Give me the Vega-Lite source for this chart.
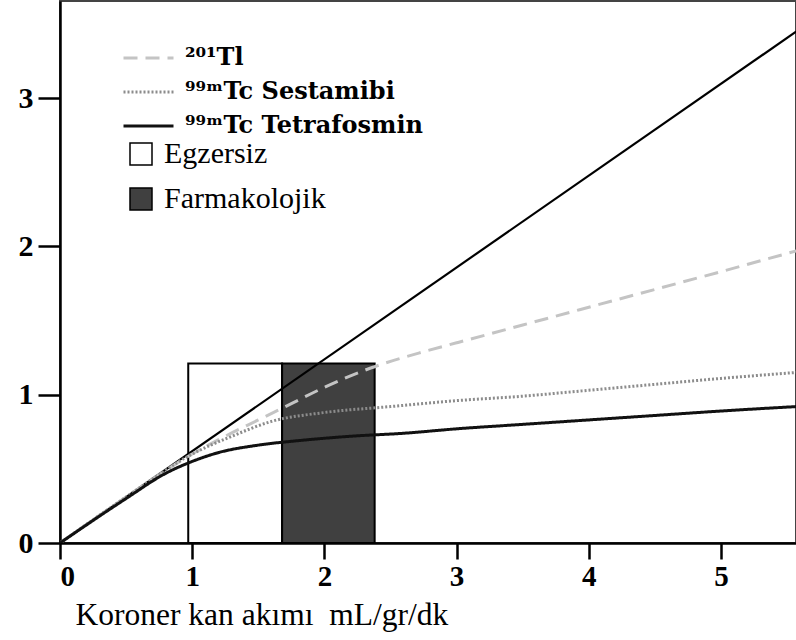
{
  "$schema": "https://vega.github.io/schema/vega-lite/v6.json",
  "autosize": {"type": "none"},
  "padding": {"left": 60, "top": 1, "right": 0, "bottom": 97},
  "width": 736,
  "height": 542,
  "background": "white",
  "config": {
    "view": {"stroke": "#444", "strokeWidth": 2},
    "font": "Liberation Serif"
  },
  "datasets": {
    "rects": [
      {"k": "Egzersiz", "x0": 0.97, "x1": 1.68, "y0": 0, "y1": 1.21},
      {"k": "Farmakolojik", "x0": 1.68, "x1": 2.38, "y0": 0, "y1": 1.21}
    ],
    "ident": [
      {"x": 0, "y": 0},
      {"x": 5.57, "y": 3.45}
    ],
    "curves": [
      {"s": "²⁰¹Tl", "x": 0, "y": 0},
      {"s": "²⁰¹Tl", "x": 0.5, "y": 0.31},
      {"s": "²⁰¹Tl", "x": 1, "y": 0.6},
      {"s": "²⁰¹Tl", "x": 1.25, "y": 0.72},
      {"s": "²⁰¹Tl", "x": 1.5, "y": 0.83},
      {"s": "²⁰¹Tl", "x": 1.75, "y": 0.94},
      {"s": "²⁰¹Tl", "x": 2, "y": 1.05},
      {"s": "²⁰¹Tl", "x": 2.35, "y": 1.18},
      {"s": "²⁰¹Tl", "x": 2.75, "y": 1.29},
      {"s": "²⁰¹Tl", "x": 3, "y": 1.35},
      {"s": "²⁰¹Tl", "x": 3.5, "y": 1.47},
      {"s": "²⁰¹Tl", "x": 4, "y": 1.59},
      {"s": "²⁰¹Tl", "x": 4.5, "y": 1.71},
      {"s": "²⁰¹Tl", "x": 5, "y": 1.83},
      {"s": "²⁰¹Tl", "x": 5.57, "y": 1.97},
      {"s": "⁹⁹ᵐTc Sestamibi", "x": 0, "y": 0},
      {"s": "⁹⁹ᵐTc Sestamibi", "x": 0.5, "y": 0.31},
      {"s": "⁹⁹ᵐTc Sestamibi", "x": 1, "y": 0.6},
      {"s": "⁹⁹ᵐTc Sestamibi", "x": 1.3, "y": 0.72},
      {"s": "⁹⁹ᵐTc Sestamibi", "x": 1.6, "y": 0.82},
      {"s": "⁹⁹ᵐTc Sestamibi", "x": 2, "y": 0.88},
      {"s": "⁹⁹ᵐTc Sestamibi", "x": 2.5, "y": 0.92},
      {"s": "⁹⁹ᵐTc Sestamibi", "x": 3, "y": 0.96},
      {"s": "⁹⁹ᵐTc Sestamibi", "x": 3.5, "y": 0.99},
      {"s": "⁹⁹ᵐTc Sestamibi", "x": 4, "y": 1.03},
      {"s": "⁹⁹ᵐTc Sestamibi", "x": 4.5, "y": 1.07},
      {"s": "⁹⁹ᵐTc Sestamibi", "x": 5, "y": 1.11},
      {"s": "⁹⁹ᵐTc Sestamibi", "x": 5.57, "y": 1.15},
      {"s": "⁹⁹ᵐTc Tetrafosmin", "x": 0, "y": 0},
      {"s": "⁹⁹ᵐTc Tetrafosmin", "x": 0.5, "y": 0.3},
      {"s": "⁹⁹ᵐTc Tetrafosmin", "x": 0.8, "y": 0.47},
      {"s": "⁹⁹ᵐTc Tetrafosmin", "x": 1, "y": 0.55},
      {"s": "⁹⁹ᵐTc Tetrafosmin", "x": 1.2, "y": 0.61},
      {"s": "⁹⁹ᵐTc Tetrafosmin", "x": 1.5, "y": 0.66},
      {"s": "⁹⁹ᵐTc Tetrafosmin", "x": 1.8, "y": 0.69},
      {"s": "⁹⁹ᵐTc Tetrafosmin", "x": 2.2, "y": 0.72},
      {"s": "⁹⁹ᵐTc Tetrafosmin", "x": 2.6, "y": 0.74},
      {"s": "⁹⁹ᵐTc Tetrafosmin", "x": 3, "y": 0.77},
      {"s": "⁹⁹ᵐTc Tetrafosmin", "x": 3.5, "y": 0.8},
      {"s": "⁹⁹ᵐTc Tetrafosmin", "x": 4, "y": 0.83},
      {"s": "⁹⁹ᵐTc Tetrafosmin", "x": 4.5, "y": 0.86},
      {"s": "⁹⁹ᵐTc Tetrafosmin", "x": 5, "y": 0.89},
      {"s": "⁹⁹ᵐTc Tetrafosmin", "x": 5.57, "y": 0.92}
    ]
  },
  "layer": [
    {
      "data": {"name": "rects"},
      "mark": {"type": "rect", "stroke": "black", "strokeWidth": 2},
      "encoding": {
        "x": {
          "field": "x0", "type": "quantitative",
          "scale": {"domain": [0, 5.567], "nice": false, "zero": false},
          "axis": {
            "values": [0, 1, 2, 3, 4, 5],
            "format": "d",
            "grid": false,
            "domainColor": "black", "domainWidth": 2.5,
            "tickColor": "black", "tickWidth": 2.5, "tickSize": 16,
            "labelFont": "Liberation Serif", "labelFontSize": 29, "labelFontWeight": "bold", "labelColor": "black",
            "labelPadding": 3,
            "title": "Koroner kan akımı\u00a0 mL/gr/dk",
            "titleFont": "Liberation Serif", "titleFontSize": 31.5, "titleFontWeight": "normal", "titleColor": "black",
            "titleAnchor": "start", "titleAlign": "left", "titleBaseline": "alphabetic",
            "titleX": 15, "titleY": 81
          }
        },
        "x2": {"field": "x1"},
        "y": {
          "field": "y0", "type": "quantitative",
          "scale": {"domain": [0, 3.655], "nice": false, "zero": false},
          "axis": {
            "values": [0, 1, 2, 3],
            "format": "d",
            "grid": false,
            "domainColor": "black", "domainWidth": 2.5,
            "tickColor": "black", "tickWidth": 2.5, "tickSize": 22,
            "labelFont": "Liberation Serif", "labelFontSize": 30, "labelFontWeight": "bold", "labelColor": "black",
            "labelPadding": 5,
            "title": null
          }
        },
        "y2": {"field": "y1"},
        "fill": {
          "field": "k", "type": "nominal",
          "scale": {"domain": ["Egzersiz", "Farmakolojik"], "range": ["white", "#404040"]},
          "legend": {
            "title": null,
            "orient": "none", "legendX": 66, "legendY": 138,
            "symbolType": "square", "symbolSize": 484,
            "symbolStrokeColor": "black", "symbolStrokeWidth": 1.5,
            "labelFont": "Liberation Serif", "labelFontSize": 30, "labelFontWeight": "normal", "labelColor": "black",
            "labelOffset": 8, "rowPadding": 15, "labelLimit": 400
          }
        }
      }
    },
    {
      "data": {"name": "ident"},
      "mark": {"type": "line", "color": "black", "strokeWidth": 2.2, "clip": true},
      "encoding": {
        "x": {"field": "x", "type": "quantitative"},
        "y": {"field": "y", "type": "quantitative"}
      }
    },
    {
      "data": {"name": "curves"},
      "mark": {"type": "line", "clip": true, "interpolate": "monotone"},
      "encoding": {
        "x": {"field": "x", "type": "quantitative"},
        "y": {"field": "y", "type": "quantitative"},
        "color": {
          "field": "s", "type": "nominal",
          "scale": {"domain": ["²⁰¹Tl", "⁹⁹ᵐTc Sestamibi", "⁹⁹ᵐTc Tetrafosmin"], "range": ["#c4c4c4", "#8c8c8c", "#111111"]},
          "legend": {
            "title": null,
            "orient": "none", "legendX": 62, "legendY": 42,
            "symbolType": "stroke", "symbolSize": 2500, "clipHeight": 30,
            "labelFont": "DejaVu Serif", "labelFontSize": 24, "labelFontWeight": "bold", "labelColor": "black",
            "labelOffset": 10, "rowPadding": 4, "labelLimit": 400
          }
        },
        "strokeDash": {
          "field": "s", "type": "nominal",
          "scale": {"domain": ["²⁰¹Tl", "⁹⁹ᵐTc Sestamibi", "⁹⁹ᵐTc Tetrafosmin"], "range": [[14, 8], [2, 2], [1, 0]]},
          "legend": {
            "title": null,
            "orient": "none", "legendX": 62, "legendY": 42,
            "symbolType": "stroke", "symbolSize": 2500, "clipHeight": 30,
            "labelFont": "DejaVu Serif", "labelFontSize": 24, "labelFontWeight": "bold", "labelColor": "black",
            "labelOffset": 10, "rowPadding": 4, "labelLimit": 400
          }
        },
        "strokeWidth": {
          "field": "s", "type": "nominal",
          "scale": {"domain": ["²⁰¹Tl", "⁹⁹ᵐTc Sestamibi", "⁹⁹ᵐTc Tetrafosmin"], "range": [3, 3, 4]},
          "legend": {
            "title": null,
            "orient": "none", "legendX": 62, "legendY": 42,
            "symbolType": "stroke", "symbolSize": 2500, "clipHeight": 30,
            "labelFont": "DejaVu Serif", "labelFontSize": 24, "labelFontWeight": "bold", "labelColor": "black",
            "labelOffset": 10, "rowPadding": 4, "labelLimit": 400
          }
        }
      }
    }
  ]
}
